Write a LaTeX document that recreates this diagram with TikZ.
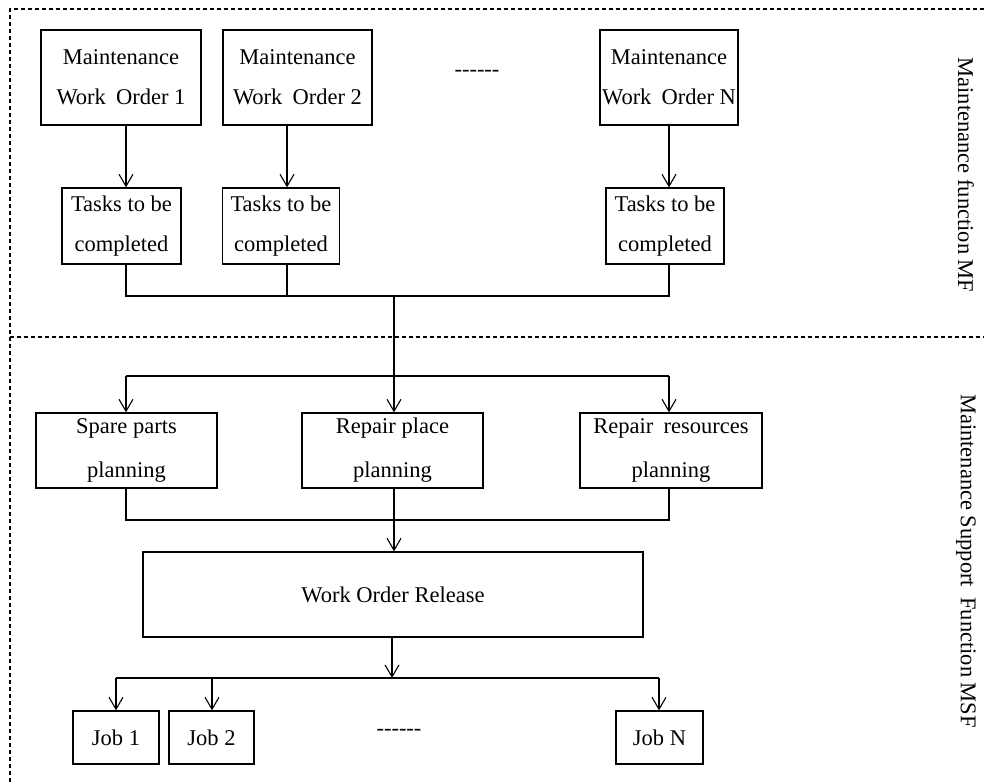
\documentclass[tikz,border=0pt]{standalone}
\usepackage{fontspec}
\setmainfont{Liberation Serif}
\newfontfamily\plainserif{Liberation Serif}
\usetikzlibrary{arrows.meta}
\begin{document}
\begin{tikzpicture}[x=1pt,y=-1pt,
  font={\fontsize{22.5}{40}\selectfont},
  box/.style={draw, line width=1.3pt, inner sep=0pt, align=center},
  link/.style={line width=1.1pt},
  arr/.style={link, -{Straight Barb[length=12pt,width=14pt,line width=1.1pt]}},
  frame/.style={line width=1.1pt, dash pattern=on 4pt off 3pt},
  wide/.style={font={\fontsize{22.5}{44}\selectfont}}]
\useasboundingbox (0,0) rectangle (984,783);

% dashed frames of the two functions
\coordinate (ftr) at (984,9);
\coordinate (ftl) at (10,9);
\coordinate (fbl) at (10,783);
\coordinate (fml) at (10,337);
\coordinate (fmr) at (984,337);
\draw[frame] (ftr) -- (ftl) -- (fbl);
\draw[frame] (fml) -- (fmr);

% maintenance work orders
\node[box, minimum width=160pt, minimum height=95pt] (mwo1) at (121,77.5) {Maintenance\\Work\hspace{0.45em}Order 1};
\node[box, minimum width=149pt, minimum height=95pt] (mwo2) at (297.5,77.5) {Maintenance\\Work\hspace{0.45em}Order 2};
\node[box, minimum width=138pt, minimum height=95pt] (mwoN) at (669,77.5) {Maintenance\\Work\hspace{0.45em}Order N};
\node[inner sep=0pt] (dotsA) at (477,73) {\plainserif -{}-{}-{}-{}-{}-};

% tasks
\node[box, minimum width=119pt, minimum height=76pt] (t1) at (121.5,226) {Tasks to be\\completed};
\node[box, minimum width=117pt, minimum height=76pt] (t2) at (281,226) {Tasks to be\\completed};
\node[box, minimum width=118pt, minimum height=76pt] (tN) at (665,226) {Tasks to be\\completed};

% planning
\node[box, wide, minimum width=181pt, minimum height=75pt] (sp) at (126.5,450.5) {Spare parts\\planning};
\node[box, wide, minimum width=181pt, minimum height=75pt] (rp) at (392.5,450.5) {Repair place\\planning};
\node[box, wide, minimum width=182pt, minimum height=75pt] (rr) at (671,450.5) {Repair\hspace{0.45em}resources\\planning};

% release
\node[box, minimum width=500pt, minimum height=85pt] (wor) at (393,594.5) {Work Order Release};

% jobs
\node[box, minimum width=86pt, minimum height=53pt] (job1) at (116,737.5) {Job 1};
\node[box, minimum width=85pt, minimum height=53pt] (job2) at (211.5,737.5) {Job 2};
\node[box, minimum width=87pt, minimum height=53pt] (jobN) at (659.5,737.5) {Job N};
\node[inner sep=0pt] (dotsB) at (399,732) {\plainserif -{}-{}-{}-{}-{}-};

% side labels
\node[rotate=-90] (mf) at (966,175) {Maintenance function MF};
\node[rotate=-90] (msf) at (966,561) {Maintenance Support\hspace{0.45em}Function MSF};

% work orders to tasks
\coordinate (m1) at (126,296);
\coordinate (m2) at (287,296);
\coordinate (mN) at (669,296);
\coordinate (hub) at (394,296);
\draw[arr] (mwo1.south -| m1) -- (t1.north -| m1);
\draw[arr] (mwo2.south -| m2) -- (t2.north -| m2);
\draw[arr] (mwoN.south -| mN) -- (tN.north -| mN);

% tasks merged and sent to planning
\draw[link] (t1.south -| m1) -- (m1) -- (mN) -- (tN.south -| mN);
\draw[link] (t2.south -| m2) -- (m2);
\coordinate (d1) at (126,376);
\coordinate (dN) at (669,376);
\draw[link] (d1) -- (dN);
\draw[arr] (hub) -- (rp.north -| hub);
\draw[arr] (d1) -- (sp.north -| d1);
\draw[arr] (dN) -- (rr.north -| dN);

% planning merged into release
\coordinate (e1) at (126,520);
\coordinate (eN) at (669,520);
\coordinate (ehub) at (394,520);
\draw[link] (sp.south -| e1) -- (e1) -- (eN) -- (rr.south -| eN);
\draw[link] (rp.south -| ehub) -- (ehub);
\draw[arr] (ehub) -- (wor.north -| ehub);

% release to jobs
\coordinate (j0) at (392,678);
\coordinate (j1) at (116,678);
\coordinate (j2) at (212,678);
\coordinate (jN) at (659,678);
\draw[arr] (wor.south -| j0) -- (j0);
\draw[link] (j1) -- (jN);
\draw[arr] (j1) -- (job1.north -| j1);
\draw[arr] (j2) -- (job2.north -| j2);
\draw[arr] (jN) -- (jobN.north -| jN);
\end{tikzpicture}
\end{document}
